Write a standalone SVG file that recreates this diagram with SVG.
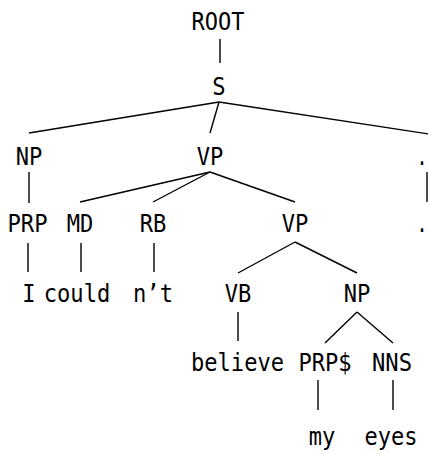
<svg xmlns="http://www.w3.org/2000/svg" width="428" height="452" viewBox="0 0 428 452">
  <style>
    text { font-family: "DejaVu Sans Mono", "Liberation Mono", monospace; font-size: 24px; fill: #000; text-anchor: middle; }
    .edge { stroke: #000; stroke-width: 1.4; fill: none; stroke-linecap: butt; }
  </style>
  <rect width="428" height="452" fill="#fff"/>

  <!-- tree edges -->
  <g id="edges">
    <line class="edge" x1="220" y1="39" x2="220" y2="63"/>
    <line class="edge" x1="219" y1="102" x2="29" y2="133"/>
    <line class="edge" x1="219" y1="102" x2="210" y2="133"/>
    <line class="edge" x1="219" y1="102" x2="432" y2="134.5"/>
    <line class="edge" x1="29" y1="172" x2="29" y2="203"/>
    <line class="edge" x1="210" y1="172" x2="80" y2="202"/>
    <line class="edge" x1="210" y1="172" x2="153" y2="202"/>
    <line class="edge" x1="210" y1="172" x2="295" y2="202"/>
    <line class="edge" x1="427" y1="172" x2="427" y2="202"/>
    <line class="edge" x1="28" y1="243" x2="28" y2="272"/>
    <line class="edge" x1="81" y1="243" x2="81" y2="272"/>
    <line class="edge" x1="154" y1="243" x2="154" y2="272"/>
    <line class="edge" x1="295" y1="242" x2="238" y2="273"/>
    <line class="edge" x1="295" y1="242" x2="357" y2="273"/>
    <line class="edge" x1="238" y1="312" x2="238" y2="341"/>
    <line class="edge" x1="357" y1="312" x2="325" y2="343"/>
    <line class="edge" x1="357" y1="312" x2="393" y2="343"/>
    <line class="edge" x1="318" y1="380" x2="318" y2="410"/>
    <line class="edge" x1="393" y1="380" x2="393" y2="410"/>
  </g>

  <!-- constituent and word nodes -->
  <g id="n-root"><text x="218" y="30" textLength="53" lengthAdjust="spacingAndGlyphs">ROOT</text></g>
  <g id="n-s"><text x="219" y="95" textLength="13.3" lengthAdjust="spacingAndGlyphs">S</text></g>

  <g id="n-np1"><text x="29" y="165" textLength="26.6" lengthAdjust="spacingAndGlyphs">NP</text></g>
  <g id="n-vp1"><text x="210" y="165" textLength="26.6" lengthAdjust="spacingAndGlyphs">VP</text></g>
  <g id="n-punct"><text x="422" y="165" textLength="11" lengthAdjust="spacingAndGlyphs">.</text></g>

  <g id="n-prp"><text x="27.5" y="232" textLength="40" lengthAdjust="spacingAndGlyphs">PRP</text></g>
  <g id="n-md"><text x="80" y="232" textLength="26.6" lengthAdjust="spacingAndGlyphs">MD</text></g>
  <g id="n-rb"><text x="153" y="232" textLength="26.6" lengthAdjust="spacingAndGlyphs">RB</text></g>
  <g id="n-vp2"><text x="295" y="232" textLength="26.6" lengthAdjust="spacingAndGlyphs">VP</text></g>
  <g id="w-period"><text x="422" y="232" textLength="11" lengthAdjust="spacingAndGlyphs">.</text></g>

  <g id="w-i"><text x="29" y="302" textLength="13.3" lengthAdjust="spacingAndGlyphs">I</text></g>
  <g id="w-could"><text x="77" y="302" textLength="66.5" lengthAdjust="spacingAndGlyphs">could</text></g>
  <g id="w-nt"><text x="153" y="302" textLength="40" lengthAdjust="spacingAndGlyphs">n’t</text></g>
  <g id="n-vb"><text x="238" y="302" textLength="26.6" lengthAdjust="spacingAndGlyphs">VB</text></g>
  <g id="n-np2"><text x="357" y="302" textLength="26.6" lengthAdjust="spacingAndGlyphs">NP</text></g>

  <g id="w-believe"><text x="237.5" y="371" textLength="93" lengthAdjust="spacingAndGlyphs">believe</text></g>
  <g id="n-prps"><text x="325" y="371" textLength="53" lengthAdjust="spacingAndGlyphs">PRP$</text></g>
  <g id="n-nns"><text x="392" y="371" textLength="40" lengthAdjust="spacingAndGlyphs">NNS</text></g>

  <g id="w-my"><text x="322" y="445" textLength="26.6" lengthAdjust="spacingAndGlyphs">my</text></g>
  <g id="w-eyes"><text x="391" y="445" textLength="53" lengthAdjust="spacingAndGlyphs">eyes</text></g>
</svg>
